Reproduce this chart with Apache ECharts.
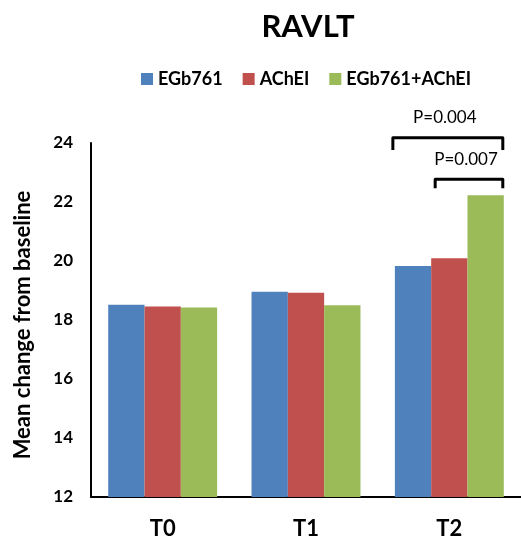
<!DOCTYPE html>
<html>
<head>
<meta charset="utf-8">
<script src="https://cdn.jsdelivr.net/npm/echarts@6/dist/echarts.min.js"></script>
<style>
  html, body { margin: 0; padding: 0; background: #fff; }
  #main { width: 521px; height: 543px; }
</style>
</head>
<body>
<div id="main"></div>
<script>
var categories = ['T0', 'T1', 'T2'];
var seriesNames = ['EGb761', 'AChEI', 'EGb761+AChEI'];
var egbValues = [18.52, 18.96, 19.83];
var acheiValues = [18.46, 18.92, 20.09];
var comboValues = [18.42, 18.50, 22.23];
var yMin = 12, yMax = 24, yStep = 2;

// significance brackets: [category, first bar, last bar, top value, leg value, label]
var brackets = [
  [2, 0, 2, 24.18, 23.76, 'P=0.004'],
  [2, 1, 2, 22.77, 22.47, 'P=0.007']
];

var colors = ['#4F81BD', '#C0504D', '#9BBB59'];
var font = 'Lato, "Open Sans", sans-serif';
var gapRatio = 0.24;

var chart = echarts.init(document.getElementById('main'));

function renderBracket(params, api) {
  var center = api.coord([api.value(0), api.value(3)]);
  var leg = api.coord([api.value(0), api.value(4)]);
  var band = api.size([1, 0])[0];
  var bw = band * (1 - gapRatio) / 3;
  var left = center[0] - 1.5 * bw;
  var x1 = left + api.value(1) * bw + (api.value(1) > 0 ? 4 : -2);
  var x2 = left + (api.value(2) + 1) * bw - 1;
  return {
    type: 'group',
    children: [{
      type: 'polyline',
      shape: { points: [[x1, leg[1]], [x1, center[1]], [x2, center[1]], [x2, leg[1]]] },
      style: { stroke: '#000', lineWidth: 3, fill: null, lineJoin: 'round' }
    }, {
      type: 'text',
      x: (x1 + x2) / 2 - 3,
      y: center[1] - 20,
      style: {
        text: brackets[params.dataIndex][5],
        fontFamily: font, fontSize: 17, fill: '#000',
        align: 'center', verticalAlign: 'middle'
      }
    }]
  };
}

var option = {
  animation: false,
  color: colors,
  title: {
    text: 'RAVLT',
    left: 303, top: 6,
    textAlign: 'center',
    textStyle: { fontFamily: font, fontSize: 31, fontWeight: 'bold', color: '#000' }
  },
  legend: {
    data: seriesNames,
    left: 136, top: 65,
    itemWidth: 12, itemHeight: 12, itemGap: 20,
    icon: 'rect',
    textStyle: { fontFamily: font, fontSize: 18, fontWeight: 'bold', color: '#000' }
  },
  grid: { left: 91, top: 143, bottom: 46, width: 432, containLabel: false },
  xAxis: {
    type: 'category',
    data: categories,
    axisLine: { lineStyle: { color: '#000', width: 2 } },
    axisTick: { show: false },
    axisLabel: { margin: 21, fontFamily: font, fontSize: 22, fontWeight: 'bold', color: '#000' }
  },
  yAxis: {
    type: 'value',
    min: yMin, max: yMax, interval: yStep,
    name: 'Mean change from baseline',
    nameLocation: 'middle',
    nameGap: 57,
    nameTextStyle: { fontFamily: font, fontSize: 22, fontWeight: 'bold', color: '#000', padding: [0, 10, 0, 0] },
    axisLine: { show: true, lineStyle: { color: '#000', width: 2 } },
    axisTick: { show: false },
    splitLine: { show: false },
    axisLabel: { margin: 18, fontFamily: font, fontSize: 17, fontWeight: 'bold', color: '#000' }
  },
  series: [
    { name: seriesNames[0], type: 'bar', data: egbValues, barGap: '0%', barCategoryGap: '24%' },
    { name: seriesNames[1], type: 'bar', data: acheiValues, barGap: '0%', barCategoryGap: '24%' },
    { name: seriesNames[2], type: 'bar', data: comboValues, barGap: '0%', barCategoryGap: '24%' },
    {
      type: 'custom',
      data: brackets.map(function (b) { return b.slice(0, 5); }),
      renderItem: renderBracket,
      clip: false,
      silent: true,
      z: 5
    }
  ]
};
chart.setOption(option);
</script>
</body>
</html>
